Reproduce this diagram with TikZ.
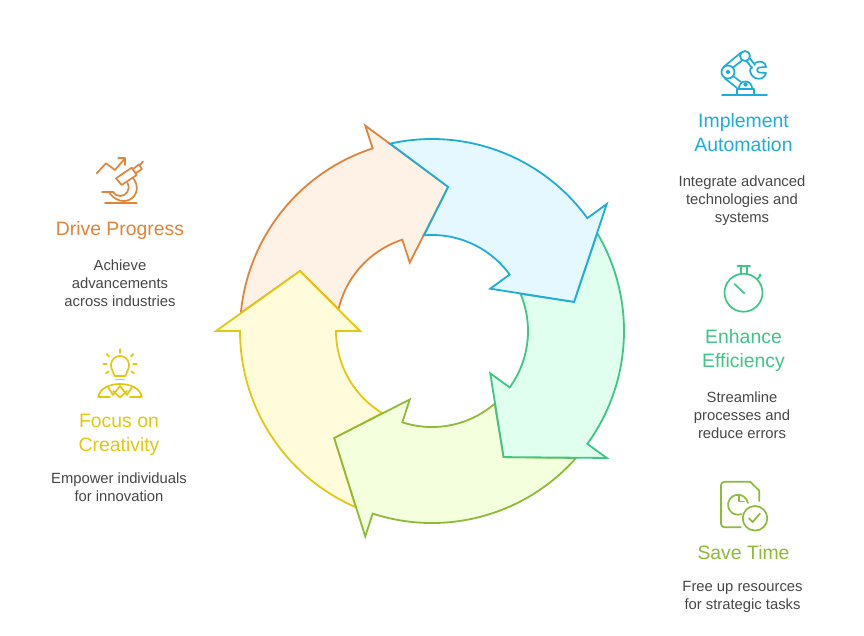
\documentclass[tikz,border=0pt]{standalone}
\usepackage{fontspec}
\setmainfont{Liberation Sans}
\definecolor{cblue}{HTML}{1EADDB}\definecolor{fblue}{HTML}{E6F8FF}
\definecolor{corange}{HTML}{E0843A}\definecolor{forange}{HTML}{FEF1E6}
\definecolor{cyellow}{HTML}{E3C810}\definecolor{fyellow}{HTML}{FFFBDB}
\definecolor{clime}{HTML}{8DBB38}\definecolor{flime}{HTML}{F3FFDD}
\definecolor{cgreen}{HTML}{3EC687}\definecolor{fgreen}{HTML}{E0FFEF}
\tikzset{
 title/.style={align=center,font=\fontsize{19.4}{24}\selectfont,inner sep=0pt,anchor=center},
 body/.style={align=center,font=\fontsize{14.8}{18}\selectfont,text=black!72,inner sep=0pt,anchor=center},
 icon/.style={line width=1.7pt,line cap=round,line join=round},
 ringarrow/.style={line width=1.8pt,line join=miter},
}
\newcommand{\ringarrow}[3]{%
 \draw[ringarrow,draw=#2,fill=#3,shift={(432,331)}]
  (#1+66.6:192pt) arc[start angle=#1+66.6,end angle=#1,radius=192pt]
  -- (#1:216pt) -- (#1-24.4:145pt) -- (#1:72pt) -- (#1:96pt)
  arc[start angle=#1,end angle=#1+58.8,radius=96pt]
  -- (#1+47.6:145pt) -- cycle;}
\begin{document}
\begin{tikzpicture}[x=1pt,y=-1pt]
\useasboundingbox[fill=white] (0,0) rectangle (864,635);
\ringarrow{108}{corange}{forange}
\ringarrow{180}{cyellow}{fyellow}
\ringarrow{252}{clime}{flime}
\ringarrow{324}{cgreen}{fgreen}
\ringarrow{36}{cblue}{fblue}
% texts
\node[title,text=cblue] (t1) at (743.5,135) {\strut Implement\\\strut Automation};
\node[body] (b1) at (742,201) {\strut Integrate advanced\\\strut technologies and\\\strut systems};
\node[title,text=cgreen] (t2) at (743.5,351) {\strut Enhance\\\strut Efficiency};
\node[body] (b2) at (742,417) {\strut Streamline\\\strut processes and\\\strut reduce errors};
\node[title,text=clime] (t3) at (743.5,555) {\strut Save Time};
\node[body] (b3) at (742.5,597) {\strut Free up resources\\\strut for strategic tasks};
\node[title,text=corange] (t4) at (120,231) {\strut Drive Progress};
\node[body] (b4) at (120,285) {\strut Achieve\\\strut advancements\\\strut across industries};
\node[title,text=cyellow] (t5) at (119,435) {\strut Focus on\\\strut Creativity};
\node[body] (b5) at (119,489) {\strut Empower individuals\\\strut for innovation};
% robot icon
\begin{scope}[icon,draw=cblue]
 \draw (722,95)--(767,95);
 \draw (737,94)--(737,89)--(754,89)--(754,94);
 \draw (739,88) arc[start angle=180,end angle=0,radius=6.5pt];
 \draw (745.5,84.5) circle[radius=1.5pt];
 \draw (728,72) circle[radius=6.5pt];
 \draw (728,72) circle[radius=1.5pt];
 \draw (745,56) circle[radius=5pt];
 \draw (723.5,67)--(741,52.5);
 \draw (733,67.5)--(742,60.5);
 \draw (725,78.5)--(737,88);
 \draw (733,76)--(741,82);
 \draw (749.5,58)--(755,65);
 \draw (746.5,61)--(752,68);
 \draw (755,63) .. controls (760,60) and (766,62) .. (766,67) -- (759,67.5) .. controls (756.5,69) and (756.5,71) .. (759,72.5) -- (766,73) .. controls (765,78) and (760,80) .. (755,78) .. controls (749,74) and (749,69) .. (752,67);
\end{scope}
% stopwatch icon
\begin{scope}[icon,draw=cgreen]
 \draw (743.5,292.7) circle[radius=19pt];
 \draw (737.5,265.7)--(750,265.7);
 \draw (741,266)--(741,273) (747,266)--(747,273);
 \draw (734.5,284)--(744.5,293.5);
 \draw (757.5,279)--(760.5,275.5);
 \fill[cgreen] (760,275) circle[radius=1.6pt];
\end{scope}
% document icon
\begin{scope}[icon,draw=clime]
 \draw (740.7,527.3)--(724.5,527.3) arc[start angle=-90,end angle=-180,radius=3.5pt] --(721,485.2) arc[start angle=180,end angle=90,radius=3.5pt] --(750,481.7)--(759.3,490.7)--(759.3,501);
 \draw (747.9,503) arc[start angle=10,end angle=290,radius=10pt];
 \draw (739.3,495.5)--(739.3,501.5)--(744,501.5);
 \draw (755,518.3) circle[radius=12.3pt];
 \draw (749,518.3)--(752.7,522)--(760,513.5);
\end{scope}
% microscope icon
\begin{scope}[icon,draw=corange]
 \draw (96.7,173.3)--(106,163.3)--(115,170)--(125,158.3);
 \draw (118.3,158.3)--(125,158.3)--(125,165);
 \draw (116,178.3)--(131.7,167.7)--(136.7,175)--(121.7,185)--cycle;
 \draw (133,169)--(139,164.5)--(142,169)--(136,173);
 \draw (140,165)--(143,161.5);
 \draw (133,178) .. controls (139,185) and (138,196) .. (129,200) .. controls (122,203) and (113,199) .. (109,192);
 \draw (127.5,183) .. controls (131,190) and (126,196) .. (120,196) .. controls (117,196) and (114,194) .. (113,192);
 \draw (102,191.7)--(113.5,191.7);
 \draw (105,203.3)--(136.7,203.3);
\end{scope}
% bulb icon
\begin{scope}[icon,draw=cyellow]
 \draw (114.5,376) .. controls (114.5,372) and (111,371) .. (111,365) arc[start angle=180,end angle=0,radius=9pt] .. controls (129,371) and (125.5,372) .. (125.5,376) -- cycle;
 \draw (115.7,379.5)--(124.3,379.5);
 \draw (120,349.3)--(120,352.7);
 \draw (106.7,354)--(109,356.3) (133.3,354)--(131,356.3);
 \draw (103.3,364)--(106.7,364) (133.3,364)--(136.7,364);
 \draw (106,373.3)--(108.7,371.3) (134,373.3)--(131.3,371.3);
 \draw (98.3,396.7) .. controls (100,388) and (110,384) .. (120,384) .. controls (130,384) and (140,388) .. (141.7,396.7);
 \draw (98.3,396.7)--(110,396.7) (130,396.7)--(141.7,396.7);
 \draw (108,387)--(113,395)--(120,386)--(127,395)--(132,387);
 \draw (113,391)--(120,397.5)--(127,391);
\end{scope}
\end{tikzpicture}
\end{document}
